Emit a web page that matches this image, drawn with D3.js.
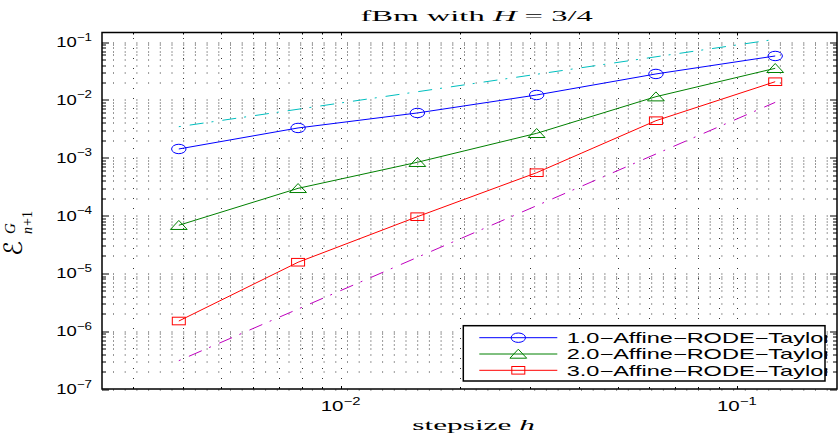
<!DOCTYPE html>
<html>
<head>
<meta charset="utf-8">
<script src="https://cdn.jsdelivr.net/npm/d3@7"></script>
<style>
  body { margin: 0; background: #fff; }
  svg { display: block; }
</style>
</head>
<body>
<div id="chart"></div>
<script>
// step sizes h = 2^-8 ... 2^-3
const stepSizes = [0.00390625, 0.0078125, 0.015625, 0.03125, 0.0625, 0.125];
const errTaylor1 = [1.42e-3, 3.28e-3, 5.96e-3, 1.22e-2, 2.82e-2, 5.77e-2];
const errTaylor2 = [6.8e-5, 2.96e-4, 8.36e-4, 2.65e-3, 1.14e-2, 3.53e-2];
const errTaylor3 = [1.5e-6, 1.56e-5, 9.57e-5, 5.52e-4, 4.38e-3, 2.07e-2];

// reference slopes (order 1 and order 3)
const refSteps = [0.00390625, 0.125];
const refOrder1 = [3.45e-3, 0.112];
const refOrder3 = [3.09e-7, 9.1e-3];

const seriesNames = ['1.0\u2212Affine\u2212RODE\u2212Taylor', '2.0\u2212Affine\u2212RODE\u2212Taylor', '3.0\u2212Affine\u2212RODE\u2212Taylor'];
const seriesColors = ['#0000ff', '#008000', '#ff0000'];
const seriesMarkers = ['circle', 'triangle', 'square'];

const yMajorExp = [-7, -6, -5, -4, -3, -2, -1];
const xMajorExp = [-2, -1];

const W = 838, H = 437;
const margin = { left: 102, right: 1, top: 32.5, bottom: 48 };
const pw = W - margin.left - margin.right;
const ph = H - margin.top - margin.bottom;

const svg = d3.select('#chart').append('svg')
  .attr('width', W)
  .attr('height', H);

const x = d3.scaleLog().domain([0.0025, 0.179]).range([0, pw]);
const y = d3.scaleLog().domain([1e-7, 0.147]).range([ph, 0]);

const g = svg.append('g').attr('transform', `translate(${margin.left},${margin.top})`);

// tick values
const yMinor = [];
yMajorExp.forEach(e => { for (let m = 2; m <= 9; m++) { const v = m * Math.pow(10, e); if (v <= y.domain()[1]) yMinor.push(v); } });
const xMinor = [];
[-3, -2, -1].forEach(e => { for (let m = 2; m <= 9; m++) { const v = m * Math.pow(10, e); if (v >= x.domain()[0] && v <= x.domain()[1]) xMinor.push(v); } });
const yMajor = yMajorExp.map(e => Math.pow(10, e));
const xMajor = xMajorExp.map(e => Math.pow(10, e));

// dotted grid
const grid = g.append('g').attr('stroke', '#333').attr('stroke-width', 1).attr('fill', 'none');
grid.selectAll('line.h')
  .data(yMajor.concat(yMinor))
  .enter().append('line')
  .attr('class', 'h')
  .attr('x1', 0).attr('x2', pw)
  .attr('y1', d => Math.round(y(d)) + 0.5).attr('y2', d => Math.round(y(d)) + 0.5)
  .attr('stroke-dasharray', '1,10.7')
  .attr('stroke-dashoffset', 0.7);
grid.selectAll('line.v')
  .data(xMajor.concat(xMinor))
  .enter().append('line')
  .attr('class', 'v')
  .attr('y1', ph).attr('y2', 0)
  .attr('x1', d => Math.round(x(d)) + 0.5).attr('x2', d => Math.round(x(d)) + 0.5)
  .attr('stroke-dasharray', '1,9');

// reference lines
const refLine = d3.line().x(d => x(d[0])).y(d => y(d[1]));
g.append('path')
  .datum(refSteps.map((h, i) => [h, refOrder1[i]]))
  .attr('d', refLine)
  .attr('fill', 'none')
  .attr('stroke', '#00bfbf')
  .attr('stroke-width', 1)
  .attr('stroke-dasharray', '2,9,14,8');
g.append('path')
  .datum(refSteps.map((h, i) => [h, refOrder3[i]]))
  .attr('d', refLine)
  .attr('fill', 'none')
  .attr('stroke', '#bf00bf')
  .attr('stroke-width', 1)
  .attr('stroke-dasharray', '2,9,14,8');

function drawMarker(sel, type, color) {
  if (type === 'circle') {
    sel.append('ellipse').attr('rx', 7.2).attr('ry', 4.7);
  } else if (type === 'triangle') {
    sel.append('path').attr('d', 'M0,-4.8L8.4,4.2L-8.4,4.2Z');
  } else {
    sel.append('rect').attr('x', -6.5).attr('y', -3.8).attr('width', 13).attr('height', 7.6);
  }
  sel.selectAll('*').attr('fill', 'none').attr('stroke', color).attr('stroke-width', 1);
}

const allErrors = [errTaylor1, errTaylor2, errTaylor3];
allErrors.forEach((errs, s) => {
  const pts = stepSizes.map((h, i) => [h, errs[i]]);
  g.append('path')
    .datum(pts)
    .attr('d', refLine)
    .attr('fill', 'none')
    .attr('stroke', seriesColors[s])
    .attr('stroke-width', 1);
  pts.forEach(p => {
    const m = g.append('g').attr('transform', `translate(${x(p[0])},${y(p[1])})`);
    drawMarker(m, seriesMarkers[s], seriesColors[s]);
  });
});

// ticks (inward)
const ticks = g.append('g').attr('stroke', '#000').attr('stroke-width', 1);
function yTicks(vals, len) {
  vals.forEach(v => {
    const yy = Math.round(y(v)) + 0.5;
    ticks.append('line').attr('x1', 0).attr('x2', len).attr('y1', yy).attr('y2', yy);
    ticks.append('line').attr('x1', pw).attr('x2', pw - len).attr('y1', yy).attr('y2', yy);
  });
}
function xTicks(vals, len) {
  vals.forEach(v => {
    const xx = Math.round(x(v)) + 0.5;
    ticks.append('line').attr('y1', ph).attr('y2', ph - len).attr('x1', xx).attr('x2', xx);
    ticks.append('line').attr('y1', 0).attr('y2', len).attr('x1', xx).attr('x2', xx);
  });
}
yTicks(yMajor, 7);
yTicks(yMinor, 4);
xTicks(xMajor, 3);
xTicks(xMinor, 2);

g.append('rect')
  .attr('width', pw).attr('height', ph)
  .attr('fill', 'none')
  .attr('stroke', '#000')
  .attr('stroke-width', 1.5);

// horizontally stretch text to the measured width
function stretch(sel, width) {
  const bw = sel.node().getBBox().width;
  sel.attr('transform', sel.attr('transform') + ` scale(${width / bw},1)`);
}

function powLabel(parent, exp, px, py, anchor, width) {
  const t = parent.append('text')
    .attr('transform', `translate(${px},${py})`)
    .attr('text-anchor', anchor)
    .attr('font-family', '"Liberation Sans", Arial, sans-serif')
    .attr('font-size', 14.5)
    .attr('fill', '#000');
  t.append('tspan').text('10');
  t.append('tspan').attr('font-size', 10.5).attr('dy', -6.5).text('\u2212' + Math.abs(exp));
  stretch(t, width);
}

yMajorExp.forEach(e => powLabel(svg, e, 92, margin.top + y(Math.pow(10, e)) + 5, 'end', 36));
xMajorExp.forEach(e => powLabel(svg, e, margin.left + x(Math.pow(10, e)), 411, 'middle', 40));

// title
const title = svg.append('text')
  .attr('transform', 'translate(476.7,20.7)')
  .attr('text-anchor', 'middle')
  .attr('font-family', '"Liberation Serif", "DejaVu Serif", serif')
  .attr('font-size', 15.5)
  .attr('fill', '#000');
title.append('tspan').text('fBm with ');
title.append('tspan').attr('font-style', 'italic').text('H');
title.append('tspan').text(' = 3/4');
stretch(title, 233);

// x label
const xl = svg.append('text')
  .attr('transform', 'translate(473.6,430)')
  .attr('text-anchor', 'middle')
  .attr('font-family', '"Liberation Serif", "DejaVu Serif", serif')
  .attr('font-size', 15)
  .attr('fill', '#000');
xl.append('tspan').text('stepsize ');
xl.append('tspan').attr('font-style', 'italic').text('h');
stretch(xl, 122.7);

// y label
const yl = svg.append('g')
  .attr('transform', 'translate(22,226) rotate(-90)')
  .attr('font-family', '"DejaVu Sans", "DejaVu Serif", serif')
  .attr('fill', '#000');
yl.append('text').attr('x', -30).attr('y', 0).attr('font-size', 25).text('\u2130');
yl.append('text').attr('x', -8).attr('y', -7).attr('font-size', 15)
  .attr('font-family', '"Liberation Serif", serif').attr('font-style', 'italic').text('G');
yl.append('text').attr('x', -8).attr('y', 10).attr('font-size', 14)
  .attr('font-family', '"Liberation Serif", serif').attr('font-style', 'italic').text('n');
yl.append('text').attr('x', 0).attr('y', 10).attr('font-size', 14)
  .attr('font-family', '"Liberation Serif", serif').text('+1');

// legend
const legend = svg.append('g');
legend.append('rect')
  .attr('x', 463.3).attr('y', 325.7)
  .attr('width', 825 - 463.3).attr('height', 381 - 325.7)
  .attr('fill', '#fff')
  .attr('stroke', '#000')
  .attr('stroke-width', 1.5);

svg.append('clipPath').attr('id', 'legclip')
  .append('rect').attr('x', 400).attr('y', 300).attr('width', 427.5).attr('height', 100);

const rowY = [337.7, 354, 370.3];
seriesNames.forEach((name, i) => {
  legend.append('line')
    .attr('x1', 479.3).attr('x2', 557.3)
    .attr('y1', rowY[i]).attr('y2', rowY[i])
    .attr('stroke', seriesColors[i]).attr('stroke-width', 1);
  const m = legend.append('g').attr('transform', `translate(518.3,${rowY[i]})`);
  drawMarker(m, seriesMarkers[i], seriesColors[i]);
  const tg = legend.append('g').attr('clip-path', 'url(#legclip)');
  const t = tg.append('text')
    .attr('transform', `translate(566.7,${rowY[i] + 5.2})`)
    .attr('font-family', '"Liberation Sans", Arial, sans-serif')
    .attr('font-size', 14)
    .attr('fill', '#000')
    .text(name);
  stretch(t, 265);
});
</script>
</body>
</html>
